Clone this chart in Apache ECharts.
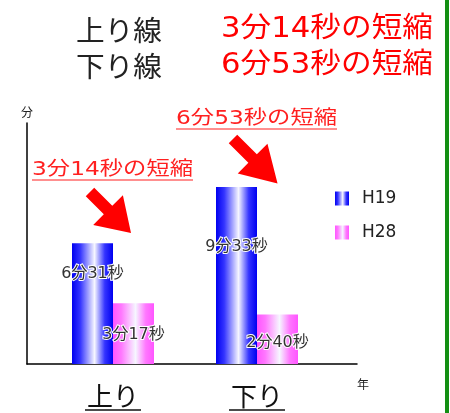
<!DOCTYPE html>
<html>
<head>
<meta charset="utf-8">
<script src="https://cdn.jsdelivr.net/npm/echarts@6/dist/echarts.min.js"></script>
<style>
html, body { margin: 0; padding: 0; background: #fff; }
#main { width: 450px; height: 413px; }
</style>
</head>
<body>
<div id="main"></div>
<script>
var categories = ['上り', '下り']
var seriesNames = ['H19', 'H28']
var h19 = [391, 573]   // 秒 (6分31秒, 9分33秒)
var h28 = [197, 160]   // 秒 (3分17秒, 2分40秒)
var headLines = ['上り線', '下り線']
var yMax = 780

var JP = '"Noto Sans CJK JP"'
var MIX = '"DejaVu Sans", "Noto Sans CJK JP"'

function toMS(sec) {
    return Math.floor(sec / 60) + '分' + (sec % 60) + '秒'
}
// 短縮 = H19 - H28
var saved = h19.map(function (v, i) { return toMS(v - h28[i]) + 'の短縮' })

var ctx = document.createElement('canvas').getContext('2d')
function textW(text, size, family) {
    ctx.font = size + 'px ' + family
    return ctx.measureText(text).width
}

function grad(c1, c2) {
    return new echarts.graphic.LinearGradient(0, 0, 1, 0, [
        { offset: 0, color: c1 },
        { offset: 0.2, color: c2 },
        { offset: 0.55, color: '#f6f6ff' },
        { offset: 0.8, color: c2 },
        { offset: 1, color: c1 }
    ])
}

// ラベルの位置 (棒の上からの距離)
var labelDist = [[23, 52], [24, 20]]

function barSeries(name, values, color, k) {
    return {
        type: 'bar',
        name: name,
        xAxisIndex: 1,
        yAxisIndex: 1,
        barWidth: 41,
        barGap: '0%',
        itemStyle: { color: color },
        data: values.map(function (v, i) {
            return { value: v, label: { distance: labelDist[k][i] } }
        }),
        label: {
            show: true,
            position: 'insideTop',
            formatter: function (p) { return toMS(p.value) },
            fontSize: 16,
            fontFamily: MIX,
            color: '#333',
            textBorderColor: '#fff',
            textBorderWidth: 2
        }
    }
}

var myChart = echarts.init(document.getElementById('main'))
myChart.setOption({
    animation: false,
    grid: [
        { left: 27, top: 123, width: 330, height: 241 },
        { left: 41, top: 123, width: 288, height: 241 }
    ],
    xAxis: [{
        gridIndex: 0,
        type: 'category',
        data: [''],
        axisLine: { lineStyle: { color: '#000', width: 1.5 } },
        axisTick: { show: false },
        axisLabel: { show: false },
        name: '年',
        nameLocation: 'end',
        nameGap: 0,
        nameTextStyle: { fontSize: 12, color: '#222', fontFamily: JP, align: 'left', verticalAlign: 'top', padding: [14, 0, 0, 0] }
    }, {
        gridIndex: 1,
        type: 'category',
        data: categories,
        axisLine: { show: false },
        axisTick: { show: false },
        axisLabel: { fontSize: 26, margin: 19, color: '#111', fontFamily: JP }
    }],
    yAxis: [{
        gridIndex: 0,
        type: 'value',
        min: 0,
        max: yMax,
        axisLine: { show: true, lineStyle: { color: '#000', width: 1.5 } },
        axisTick: { show: false },
        axisLabel: { show: false },
        splitLine: { show: false },
        name: '分',
        nameGap: 5,
        nameTextStyle: { fontSize: 12, color: '#222', fontFamily: JP }
    }, {
        gridIndex: 1,
        type: 'value',
        min: 0,
        max: yMax,
        show: false
    }],
    legend: {
        data: seriesNames,
        orient: 'vertical',
        left: 330,
        top: 185,
        icon: 'rect',
        itemWidth: 14,
        itemHeight: 14,
        itemGap: 17,
        textStyle: { fontSize: 17, color: '#222', fontFamily: 'DejaVu Sans', padding: [0, 0, 0, 8] }
    },
    series: [
        barSeries(seriesNames[0], h19, grad('#0000f0', '#3434ff'), 0),
        barSeries(seriesNames[1], h28, grad('#ff55ff', '#ff77ff'), 1)
    ]
})

// 見出し・注記・矢印
var g = []
var titleRowY = [30, 66]
headLines.forEach(function (t, i) {
    g.push({
        type: 'text', x: 76, y: titleRowY[i],
        scaleX: 86 / textW(t, 28, JP),
        style: { text: t, fontSize: 28, fontFamily: JP, fill: '#222', textAlign: 'left', align: 'left', textVerticalAlign: 'middle', verticalAlign: 'middle' }
    })
    g.push({
        type: 'text', x: 221, y: titleRowY[i],
        scaleX: 212 / textW(saved[i], 28, MIX),
        style: { text: saved[i], fontSize: 28, fontFamily: MIX, fill: '#ff0000', textAlign: 'left', align: 'left', textVerticalAlign: 'middle', verticalAlign: 'middle' }
    })
})

// 棒の上の注記
var noteX = [32, 176], noteY = [170, 119], noteW = [161, 161]
saved.forEach(function (t, i) {
    g.push({
        type: 'text', x: noteX[i], y: noteY[i],
        scaleX: noteW[i] / textW(t, 19, MIX),
        style: { text: t, fontSize: 19, fontFamily: MIX, fill: '#ff2020', textAlign: 'left', align: 'left', textVerticalAlign: 'middle', verticalAlign: 'middle' }
    })
    g.push({
        type: 'line',
        shape: { x1: noteX[i], y1: noteY[i] + 10, x2: noteX[i] + noteW[i], y2: noteY[i] + 10 },
        style: { stroke: '#ff2020', lineWidth: 1.2 }
    })
})

var arrows = [[90, 192, 58], [233, 139, 63]]
arrows.forEach(function (a) {
    var L = a[2], h = L * 0.56
    g.push({
        type: 'polygon', x: a[0], y: a[1], rotation: -Math.PI / 4,
        shape: { points: [[0, -6], [L - h, -6], [L - h, -21], [L, 0], [L - h, 21], [L - h, 6], [0, 6]] },
        style: { fill: '#ff0000' }
    })
})

// カテゴリ名の下線
categories.forEach(function (c) {
    var cx = myChart.convertToPixel({ xAxisIndex: 1 }, c)
    var w = textW(c, 26, JP) + 4
    g.push({
        type: 'line',
        shape: { x1: cx - w / 2, y1: 410, x2: cx + w / 2, y2: 410 },
        style: { stroke: '#111', lineWidth: 1.5 }
    })
})

g.push({ type: 'rect', shape: { x: 445, y: 0, width: 4, height: 413 }, style: { fill: '#138f13' } })

myChart.setOption({ graphic: g })
</script>
</body>
</html>
